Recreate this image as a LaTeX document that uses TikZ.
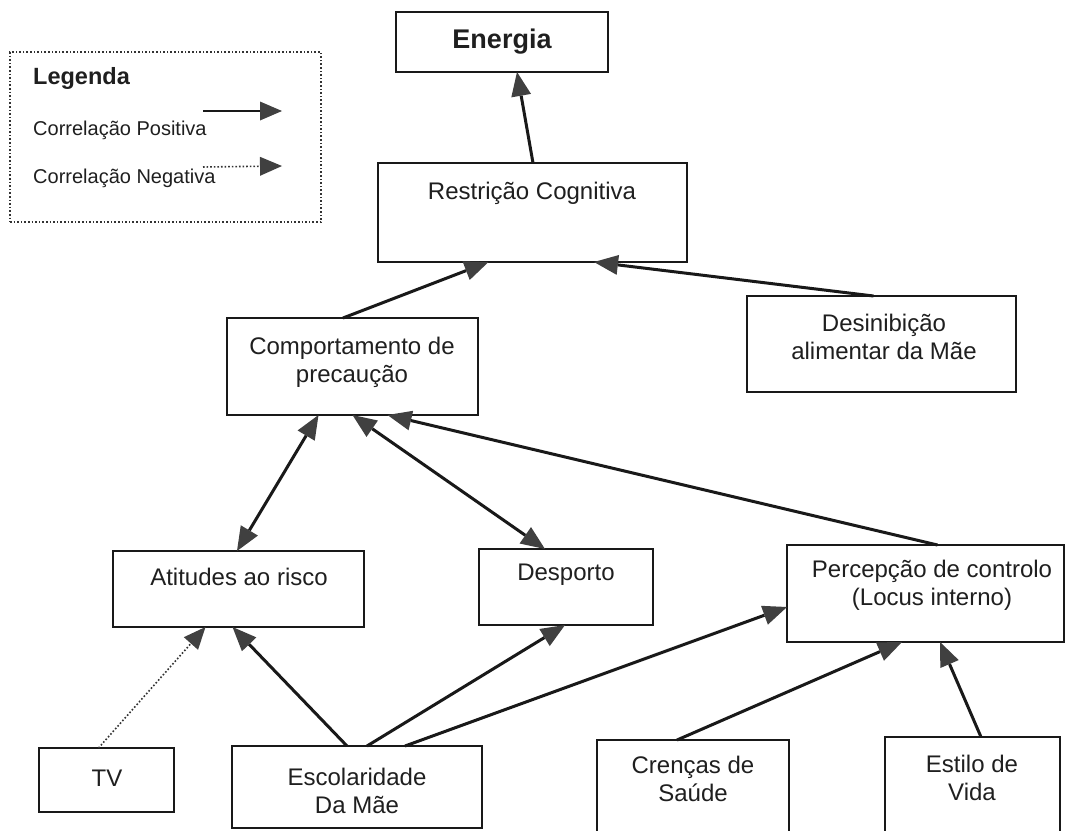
\documentclass[tikz,border=0pt]{standalone}
\usepackage{fontspec}
\setmainfont{Liberation Sans}
\usetikzlibrary{arrows.meta}
\begin{document}
\begin{tikzpicture}[x=1pt,y=-1pt,
  box/.style={draw=black!90, line width=1.8pt, rectangle, inner sep=0pt, outer sep=0pt},
  txt/.style={align=center, inner sep=0pt, font=\fontsize{24}{28}\selectfont, text=black!88},
  ltxt/.style={anchor=west, inner sep=0pt, font=\fontsize{20}{24}\selectfont, text=black!88},
  conn/.style={draw=black!90, line width=3pt, -{Triangle[length=24pt,width=20pt,fill=black!75,line width=0pt]}},
  biconn/.style={draw=black!90, line width=3pt, {Triangle[length=24pt,width=20pt,fill=black!75,line width=0pt]}-{Triangle[length=24pt,width=20pt,fill=black!75,line width=0pt]}},
  negconn/.style={draw=black!80, line width=1.6pt, dotted, -{Triangle[length=22pt,width=19pt,fill=black!75,line width=0pt]}}
]
\useasboundingbox (0,0) rectangle (1067,830);
\fill[white] (0,0) rectangle (1067,830);
\clip (0,0) rectangle (1067,830);

% legend
\node[draw=black!80, line width=1.6pt, dotted, rectangle, inner sep=0pt, minimum width=311pt, minimum height=170pt] (legend) at (165.5,137) {};
\node[ltxt, font=\bfseries\fontsize{23.5}{26}\selectfont] (legtitle) at (33,78) {Legenda};
\node[ltxt] (legpos) at (33,130) {Correlação Positiva};
\node[ltxt] (legneg) at (33,178) {Correlação Negativa};
\coordinate (lp1) at (203,111);
\coordinate (lp2) at (282,111);
\coordinate (ln1) at (203,167);
\coordinate (ln2) at (282,166);
\draw[conn, line width=2pt, -{Triangle[length=22pt,width=19pt,fill=black!75,line width=0pt]}] (lp1) -- (lp2);
\draw[negconn] (ln1) -- (ln2);

% boxes
\node[box, minimum width=212pt, minimum height=60pt] (energia) at (502,42) {};
\node[txt, font=\bfseries\fontsize{27}{30}\selectfont] (energiat) at (502,42) {Energia};

\node[box, minimum width=309pt, minimum height=99pt] (restr) at (532.5,212.5) {};
\node[txt] (restrt) at (532,193) {Restrição Cognitiva};

\node[box, minimum width=251pt, minimum height=97pt] (comp) at (352.5,366.5) {};
\node[txt] (compt) at (352,362) {Comportamento de\\precaução};

\node[box, minimum width=269pt, minimum height=96pt] (desin) at (881.5,344) {};
\node[txt] (desint) at (884,337) {Desinibição\\alimentar da Mãe};

\node[box, minimum width=251pt, minimum height=76pt] (atit) at (238.5,589) {};
\node[txt] (atitt) at (239,577) {Atitudes ao risco};

\node[box, minimum width=174pt, minimum height=76pt] (desp) at (566,587) {};
\node[txt] (despt) at (566,575) {Desporto};

\node[box, minimum width=277pt, minimum height=97pt] (perc) at (925.5,593.5) {};
\node[txt] (perct) at (932,585) {Percepção de controlo\\(Locus interno)};

\node[box, minimum width=135pt, minimum height=64pt] (tv) at (106.5,780) {};
\node[txt] (tvt) at (107,778) {TV};

\node[box, minimum width=250pt, minimum height=82pt] (escol) at (357,787) {};
\node[txt] (escolt) at (357,791) {Escolaridade\\Da Mãe};

\node[box, minimum width=192pt, minimum height=110pt] (cren) at (693,795) {};
\node[txt] (crent) at (693,779) {Crenças de\\Saúde};

\node[box, minimum width=175pt, minimum height=113pt] (estilo) at (972.5,793.5) {};
\node[txt] (estilot) at (972,778) {Estilo de\\Vida};

% connectors
\draw[conn] ([xshift=0.5pt]restr.north) -- ([xshift=15pt]energia.south);
\draw[conn] ([xshift=-9.5pt]comp.north) -- ([xshift=-44pt]restr.south);
\draw[conn] ([xshift=-8pt]desin.north) -- ([xshift=61.5pt]restr.south);
\draw[biconn] ([xshift=-34pt]comp.south) -- ([xshift=-1.5pt]atit.north);
\draw[biconn] ([xshift=0pt]comp.south) -- ([xshift=-21pt]desp.north);
\draw[conn] ([xshift=12pt]perc.north) -- ([xshift=35pt]comp.south);
\draw[negconn] ([xshift=-8pt]tv.north) -- ([xshift=-33pt]atit.south);
\draw[conn] ([xshift=-10pt]escol.north) -- ([xshift=-6pt]atit.south);
\draw[conn] ([xshift=10pt]escol.north) -- ([xshift=-1pt]desp.south);
\draw[conn] ([xshift=48pt]escol.north) -- ([yshift=-13.5pt]perc.west);
\draw[conn] ([xshift=-16pt]cren.north) -- ([xshift=-23.5pt]perc.south);
\draw[conn] ([xshift=8.5pt]estilo.north) -- ([xshift=14.5pt]perc.south);
\end{tikzpicture}
\end{document}
